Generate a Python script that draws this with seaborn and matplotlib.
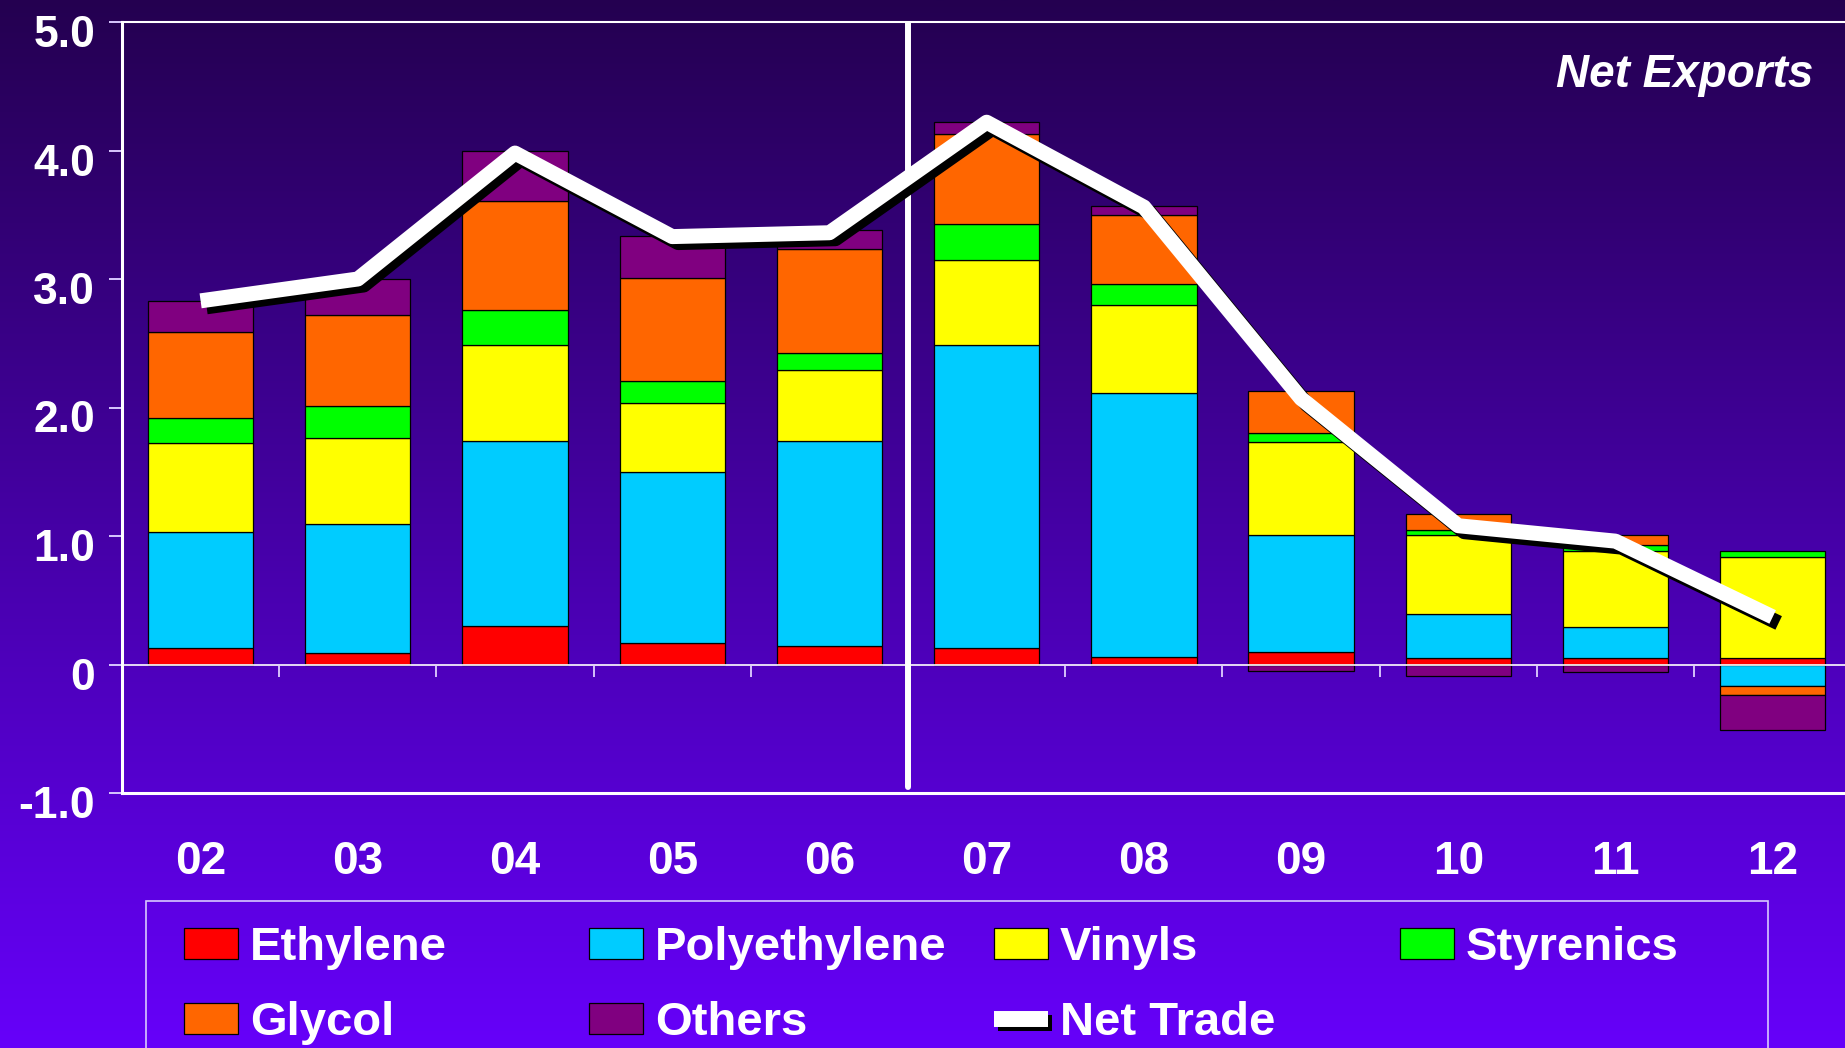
import matplotlib
matplotlib.use('Agg')
import matplotlib.pyplot as plt
import matplotlib.patheffects as pe
import matplotlib.transforms as mtransforms
from matplotlib.patches import Patch, Rectangle
from matplotlib.lines import Line2D
import seaborn as sns
import numpy as np

# values (stacked segments, positives up / negatives down)
years = ["02", "03", "04", "05", "06", "07", "08", "09", "10", "11", "12"]
ethylene = [0.13, 0.09, 0.30, 0.17, 0.145, 0.13, 0.055, 0.10, 0.05, 0.05, 0.05]
polyethylene = [0.90, 1.00, 1.44, 1.325, 1.595, 2.36, 2.055, 0.91, 0.34, 0.24, -0.17]
vinyls = [0.695, 0.67, 0.745, 0.54, 0.55, 0.66, 0.685, 0.72, 0.62, 0.59, 0.79]
styrenics = [0.195, 0.25, 0.275, 0.17, 0.135, 0.275, 0.165, 0.07, 0.04, 0.05, 0.04]
glycol = [0.67, 0.71, 0.85, 0.80, 0.81, 0.705, 0.54, 0.33, 0.12, 0.08, -0.07]
others = [0.235, 0.28, 0.39, 0.33, 0.145, 0.09, 0.07, -0.05, -0.09, -0.055, -0.27]
net_trade = [2.83, 3.00, 3.98, 3.33, 3.36, 4.22, 3.56, 2.07, 1.08, 0.96, 0.37]

series_names = ["Ethylene", "Polyethylene", "Vinyls", "Styrenics", "Glycol", "Others"]
series_vals = [ethylene, polyethylene, vinyls, styrenics, glycol, others]
series_colors = ["#FF0000", "#00CCFF", "#FFFF00", "#00FF00", "#FF6600", "#800080"]

ytick_vals = [-1, 0, 1, 2, 3, 4, 5]
ytick_labels = ["-1.0", "0", "1.0", "2.0", "3.0", "4.0", "5.0"]
divider_after = "06"  # vertical separator between 06 and 07

sns.set_style("ticks")
plt.rcParams['font.family'] = ['Liberation Sans', 'DejaVu Sans']
plt.rcParams['font.weight'] = 'bold'

W, H = 1845, 1048
fig = plt.figure(figsize=(W / 100, H / 100), dpi=100)

# gradient background
bg = fig.add_axes([0, 0, 1, 1], zorder=-10)
t = np.linspace(0, 1, 512)[:, None, None]
top_c = np.array([36, 0, 80]) / 255
bot_c = np.array([102, 0, 250]) / 255
bg.imshow(top_c + (bot_c - top_c) * t, aspect='auto', extent=[0, 1, 0, 1])
bg.axis('off')

ax = fig.add_axes([122 / W, 1 - 793 / H, 1 - 122 / W, (793 - 22) / H])
ax.patch.set_alpha(0)

pos_base = np.zeros(len(years))
neg_base = np.zeros(len(years))
for name, vals, col in zip(series_names, series_vals, series_colors):
    vals = np.array(vals)
    bottoms = np.where(vals >= 0, pos_base, neg_base)
    sns.barplot(x=years, y=vals, order=years, bottom=bottoms, color=col,
                saturation=1, width=0.67, edgecolor='black', linewidth=0.9,
                errorbar=None, ax=ax, zorder=2)
    pos_base += np.clip(vals, 0, None)
    neg_base += np.clip(vals, None, 0)

shadow = [pe.SimpleLineShadow(offset=(4.3, -4.3), shadow_color='black', alpha=1), pe.Normal()]
sns.lineplot(x=np.arange(len(years)), y=net_trade, color='white', linewidth=10.8,
             solid_joinstyle='round', solid_capstyle='butt', path_effects=shadow,
             ax=ax, zorder=6)

ax.axhline(0, color='white', lw=1.2, zorder=4)
ax.vlines(np.arange(0.5, len(years) - 1), -0.1, 0, color='#e0d0ff', lw=1.3, zorder=4)
ax.axvline(years.index(divider_after) + 0.5, ymin=(1 - 0.955) / 6, ymax=1,
           color='white', lw=4.3, zorder=5)

ax.set_xlim(-0.5, 10.46)
ax.set_ylim(-1, 5)
ax.set_yticks(ytick_vals)
ax.set_yticklabels(ytick_labels)
ax.set_xticks(range(len(years)))
ax.set_xticklabels(years)
ax.set_xlabel('')
ax.set_ylabel('')
ax.tick_params(axis='x', length=0, pad=34, labelsize=33, labelcolor='white')
ax.tick_params(axis='y', length=9.4, width=1.4, pad=10, labelsize=32,
               labelcolor='white', color='#d8c8ff')
# y labels sit a little below their ticks in the original
shift = mtransforms.ScaledTranslation(0, -9 / 100, fig.dpi_scale_trans)
for lab in ax.get_yticklabels():
    lab.set_transform(lab.get_transform() + shift)
for s in ['top', 'left', 'bottom']:
    ax.spines[s].set_color('white')
ax.spines['top'].set_linewidth(1.5)
ax.spines['left'].set_linewidth(2.2)
ax.spines['bottom'].set_linewidth(2.2)
ax.spines['right'].set_visible(False)

fig.text(1813 / W, 1 - 86.7 / H, "Net Exports", ha='right', va='baseline',
         fontsize=33, style='italic', weight='bold', color='white')

# legend: one entry per slot on a 4-column grid
handles = [Patch(facecolor=c, edgecolor='black', linewidth=0.9) for c in series_colors]
handles.append(Line2D([], [], color='white', linewidth=11.5, solid_capstyle='butt',
                      path_effects=[pe.SimpleLineShadow(offset=(3, -3), shadow_color='black', alpha=1), pe.Normal()]))
labels = series_names + ["Net Trade"]
slots = [(184, 948), (589, 948), (994, 948), (1400, 948),
         (184, 1023), (589, 1023), (994, 1023)]
fs = 34
fpx = fs * 100 / 72
for i, (x, y) in enumerate(slots):
    fig.legend(handles=[handles[i]], labels=[labels[i]], loc='center left',
               bbox_to_anchor=(x / W, 1 - y / H), frameon=False, borderpad=0,
               borderaxespad=0, handlelength=54 / fpx, handleheight=30 / fpx,
               handletextpad=12 / fpx, prop={'size': fs, 'weight': 'bold'},
               labelcolor='white')

fig.add_artist(Rectangle((146 / W, -0.05), (1768 - 146) / W, 0.05 + 1 - 901 / H,
                         transform=fig.transFigure, fill=False,
                         edgecolor='#d8c8ff', linewidth=1.2))

fig.savefig("out.png", dpi=100, facecolor='#6600FA')
